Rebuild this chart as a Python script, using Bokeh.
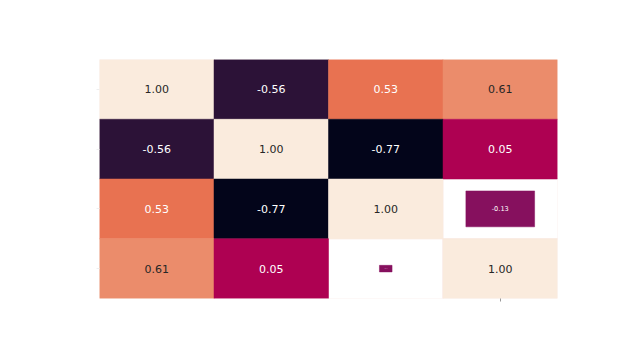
import numpy as np
from bokeh.plotting import figure
from bokeh.models import ColumnDataSource, Range1d, FixedTicker
from bokeh.core.properties import value
from bokeh.embed import file_html
from bokeh.resources import INLINE

# correlation matrix (row-major, top row first)
labels = ["A", "B", "C", "D"]
corr = [
    [1.00, -0.56, 0.53, 0.61],
    [-0.56, 1.00, -0.77, 0.05],
    [0.53, -0.77, 1.00, -0.13],
    [0.61, 0.05, -0.13, 1.00],
]
# animation state of each cell (1 = fully grown)
cell_grow = [
    [1, 1, 1, 1],
    [1, 1, 1, 1],
    [1, 1, 1, 0.6],
    [1, 1, 0.11, 1],
]

# rocket-like colormap anchors (position, colour)
cmap_pos = [0.0, 0.12, 0.36, 0.46, 0.73, 0.78, 1.0]
cmap_col = ["#03051A", "#2C1237", "#85105E", "#AD0052", "#E8704F", "#EB8C6B", "#FAEBDD"]

def hex2rgb(h):
    return np.array([int(h[i:i + 2], 16) for i in (1, 3, 5)], dtype=float)

anchors = np.array([hex2rgb(c) for c in cmap_col])

def cmap(v, vmin=-0.77, vmax=1.0):
    t = min(max((v - vmin) / (vmax - vmin), 0.0), 1.0)
    rgb = [np.interp(t, cmap_pos, anchors[:, k]) for k in range(3)]
    return "#%02x%02x%02x" % tuple(int(round(c)) for c in rgb)

n = len(labels)
xs, ys, vals, cols, ws, hs, tcols, fs = [], [], [], [], [], [], [], []
for r in range(n):
    for c in range(n):
        v = corr[r][c]
        g = cell_grow[r][c]
        xs.append(c + 0.5)
        ys.append(n - r - 0.5)
        vals.append("%.2f" % v)
        cols.append(cmap(v))
        ws.append(g)
        hs.append(g)
        tcols.append("#262626" if v > 0.57 else "#ffffff")
        fs.append("%.1fpx" % (11 * g))

src = ColumnDataSource(dict(x=xs, y=ys, v=vals, c=cols, w=ws, h=hs, tc=tcols, fs=fs))

p = figure(width=624, height=344, output_backend="svg", toolbar_location=None,
           x_range=Range1d(0, 4), y_range=Range1d(0, 4),
           min_border_left=99, min_border_right=67, min_border_top=59, min_border_bottom=46)
p.grid.visible = False
p.outline_line_color = None
p.background_fill_color = "white"

# white backing for each cell
p.rect(x="x", y="y", width=1, height=1, source=src, fill_color="white",
       line_color="#F8E6E2", line_width=0.6)
p.rect(x="x", y="y", width="w", height="h", source=src, fill_color="c",
       line_color="c", line_width=0.5)
p.text(x="x", y="y", text="v", source=src, text_color="tc", text_font_size="fs",
       text_font=value("DejaVu Sans"), text_align="center", text_baseline="middle")

p.xaxis.ticker = FixedTicker(ticks=[3.5])
p.yaxis.ticker = FixedTicker(ticks=[0.5, 1.5, 2.5, 3.5])
for ax in (p.xaxis, p.yaxis):
    ax.axis_line_color = None
    ax.major_label_text_alpha = 0
    ax.minor_tick_line_color = None
    ax.major_tick_in = 0
    ax.major_tick_out = 3
p.xaxis.major_tick_line_color = "#999999"
p.yaxis.major_tick_line_color = "#eeeeee"

open("out.html", "w").write(file_html(p, INLINE))
